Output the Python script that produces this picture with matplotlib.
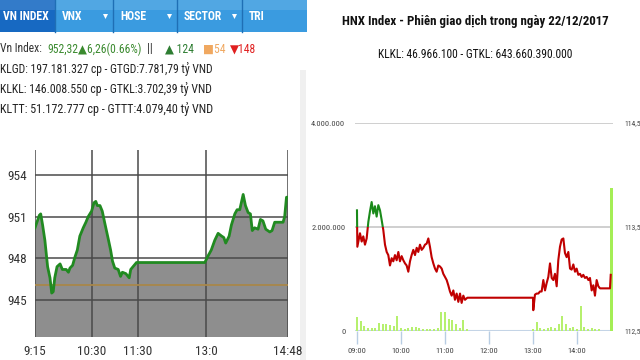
import numpy as np
import matplotlib
matplotlib.use("Agg")
import matplotlib.pyplot as plt
from matplotlib import font_manager as fm
from matplotlib.patches import Rectangle, Polygon

# pick the narrowest installed sans family
avail = {f.name for f in fm.fontManager.ttflist}
narrow = "DejaVu Sans"
for cand in ["Roboto Condensed", "Liberation Sans Narrow", "DejaVu Sans Condensed",
             "Open Sans Condensed", "Roboto", "Liberation Sans"]:
    if cand in avail:
        narrow = cand
        break
NARROW = [narrow, "DejaVu Sans"]

# ---- VN-Index intraday (minutes after 9:15, index points) ----
vn_min = [0, 5.7, 7.5, 10, 13, 16.6, 19.7, 22, 24, 26, 29, 33, 36, 41, 44, 46,
          49.5, 52.6, 55.7, 59, 63.5, 67, 70, 74.5, 77.6, 80, 82, 85.5, 88.5,
          92, 96.4, 99.5, 102, 105, 109.5, 112.6, 115, 119.6, 124, 126, 129,
          133.6, 223.5, 228, 232, 236.6, 241, 245.7, 248.5, 251, 255.5, 258.5,
          263, 266, 269.5, 274, 277, 280.5, 283.5, 286, 289, 293.6, 296.7, 300,
          303.7, 309, 312, 315.5, 326.5, 328.6, 331, 333]
vn_val = [950.2, 951.1, 951.2, 950.4, 949.3, 947.4, 946.6, 945.5, 945.6, 946.6,
          947.4, 947.6, 947.2, 947.2, 947.0, 947.3, 947.5, 948.1, 948.6, 949.6,
          950.2, 950.6, 951.0, 951.4, 952.0, 952.1, 951.8, 951.8, 951.4, 950.5,
          949.4, 948.6, 947.8, 947.3, 947.2, 946.7, 947.0, 946.9, 946.6, 947.2,
          947.4, 947.7, 947.7, 948.2, 948.6, 949.3, 949.8, 949.6, 949.5, 949.1,
          949.6, 950.4, 951.2, 951.5, 951.5, 952.6, 951.8, 951.3, 951.2, 950.0,
          950.2, 950.1, 950.8, 950.7, 950.1, 949.9, 950.0, 950.6, 950.6, 951.0,
          952.4, 952.4]
vn_ref = 946.06
vn_yticks = [945, 948, 951, 954]
vn_xticks = [0, 75, 135, 225, 333]
vn_xlabels = ["9:15", "10:30", "11:30", "13:0", "14:48"]

tabs = ["VN INDEX", "VNX", "HOSE", "SECTOR", "TRI"]
info_lines = ["KLGD: 197.181.327 cp - GTGD:7.781,79 tỷ VND",
              "KLKL: 146.008.550 cp - GTKL:3.702,39 tỷ VND",
              "KLTT: 51.172.777 cp - GTTT:4.079,40 tỷ VND"]

# ---- HNX-Index intraday (minutes after 9:00) ----
hnx_min = [0, 0.5, 4.1, 6.4, 8.6, 10.9, 13.2, 15.5, 17.7, 20, 22.3, 24.5, 26.8,
           29.1, 31.4, 33.6, 35.9, 38.2, 40.5, 42.7, 45, 47.3, 49.5, 51.8, 54.1,
           56.4, 58.6, 60.9, 63.2, 65.5, 67.7, 70, 72.3, 74.5, 76.8, 79.1, 81.4,
           83.6, 85.9, 88.2, 90.5, 92.7, 95, 97.3, 99.5, 101.8, 104.1, 106.4,
           108.6, 110.9, 113.2, 115.5, 117.7, 120, 122.3, 124.5, 126.8, 129.1,
           131.4, 133.6, 135.9, 138.2, 140.5, 142.7, 145, 147.3, 150.5, 240,
           240.4, 242.7, 245, 247.3, 249.5, 251.8, 254.1, 256.4, 258.6, 260.9,
           263.2, 265.5, 267.7, 270, 272.3, 274.5, 276.8, 279.1, 281.4, 283.6,
           285.9, 288.2, 290.5, 292.7, 295, 297.3, 299.5, 301.8, 304.1, 306.4,
           308.6, 310.9, 313.2, 315.5, 317.7, 320, 322.3, 324.5, 326.8, 329.1,
           331.4, 345, 346]
hnx_price = [113.66, 113.31, 113.44, 113.36, 113.41, 113.33, 113.39, 113.55,
             113.65, 113.74, 113.63, 113.70, 113.60, 113.71, 113.66, 113.57,
             113.47, 113.33, 113.26, 113.23, 113.13, 113.20, 113.17, 113.23,
             113.18, 113.26, 113.17, 113.22, 113.18, 113.15, 113.13, 113.07,
             113.17, 113.23, 113.28, 113.23, 113.30, 113.26, 113.33, 113.28,
             113.30, 113.33, 113.34, 113.39, 113.31, 113.21, 113.15, 113.10,
             113.07, 113.13, 113.12, 113.10, 113.05, 113.02, 112.99, 112.94,
             112.88, 112.84, 112.89, 112.80, 112.86, 112.78, 112.86, 112.77,
             112.84, 112.80, 112.82, 112.82, 112.70, 112.85, 112.86, 112.86,
             112.88, 112.88, 112.99, 112.89, 112.96, 113.02, 113.15, 113.01,
             112.99, 113.05, 112.93, 113.18, 113.31, 113.38, 113.39, 113.25,
             113.21, 113.26, 113.10, 113.09, 113.14, 113.07, 113.10, 113.04,
             113.05, 113.02, 113.04, 113.01, 113.02, 112.99, 113.01, 112.89,
             112.94, 112.84, 112.99, 112.93, 112.91, 112.91, 113.04]
hnx_ref = 113.5
vol_min = [0, 5, 10, 15, 20, 25, 30, 35, 40, 45, 50, 55, 60, 65, 70, 75, 80,
           85, 90, 95, 100, 105, 110, 115, 120, 125, 130, 135, 140, 145, 150,
           240, 245, 250, 255, 260, 265, 270, 275, 280, 285, 290, 295, 300,
           305, 310, 315, 320, 325, 330, 347]
vol = [0.27, 0.19, 0.09, 0.05, 0.06, 0.05, 0.15, 0.13, 0.14, 0.12, 0.10, 0.28,
       0.05, 0.04, 0.05, 0.08, 0.08, 0.05, 0.03, 0.03, 0.03, 0.03, 0.06, 0.36,
       0.36, 0.24, 0.22, 0.13, 0.06, 0.22, 0.03,
       0.04, 0.18, 0.06, 0.04, 0.06, 0.08, 0.06, 0.13, 0.28, 0.14, 0.06, 0.08,
       0.04, 0.49, 0.08, 0.04, 0.06, 0.04, 0.03, 2.75]
vol = [v * 1e6 for v in vol]
hnx_xticks = [0, 60, 120, 180, 240, 300]
hnx_xlabels = ["09:00", "10:00", "11:00", "12:00", "13:00", "14:00"]

W, H = 640, 360
fig = plt.figure(figsize=(6.4, 3.6), dpi=100)
fig.patch.set_facecolor("white")
renderer = fig.canvas.get_renderer()


def px_axes(x0, y0, x1, y1, **kw):
    return fig.add_axes([x0 / W, 1 - y1 / H, (x1 - x0) / W, (y1 - y0) / H], **kw)


def fit(t, max_w):
    # shrink a text until it is no wider than max_w pixels
    w = t.get_window_extent(renderer).width
    if w > max_w:
        t.set_fontsize(t.get_fontsize() * max_w / w)
    return t


# overlay in pixel coordinates for header/texts
ov = px_axes(0, 0, W, H)
ov.set_xlim(0, W)
ov.set_ylim(H, 0)
ov.axis("off")

tab_edges = [0, 55, 113, 177, 242, 307]
for i, name in enumerate(tabs):
    x0, x1 = tab_edges[i], tab_edges[i + 1]
    col = "#1769c2" if i == 0 else "#3a9be0"
    ov.add_patch(Rectangle((x0, 0), x1 - x0, 32, color=col, lw=0))
    ov.add_patch(Rectangle((x0, 0), x1 - x0, 10, color="white", alpha=0.12, lw=0))
    if i > 0:
        ov.plot([x0, x0], [0, 32], color="#1f6fb5", lw=1)
    t = ov.text(x0 + (3 if i == 0 else 7), 17, name, color="white", fontsize=8.5,
                fontweight="bold", family=NARROW, va="center", ha="left")
    fit(t, (x1 - x0) - (6 if i == 0 else 22))
    if name in ("VNX", "HOSE", "SECTOR"):
        ov.add_patch(Polygon([[x1 - 10, 14], [x1 - 5, 14], [x1 - 7.5, 19]],
                             closed=True, color="white", lw=0))

# info lines 2-4
fs_info = 9.5
for k, s in enumerate(info_lines):
    t = ov.text(0, 69 + 20 * k, s, color="#222222", fontsize=9.5, family=NARROW,
                va="center", ha="left")
    fit(t, 214)
    fs_info = min(fs_info, t.get_fontsize())

# info line 1, pieces placed at their reference positions
pieces = [(0, "Vn Index:", "#333333"), (47, "952,32▲6,26(0.66%)", "#3a8a2e"),
          (147, "||", "#333333"), (165, "▲ 124", "#2e7d32"),
          (203, "■54", "#f0a860"), (230, "▼148", "#e02020")]
for x, s, c in pieces:
    ov.text(x, 49, s, color=c, fontsize=fs_info, family=NARROW, va="center",
            ha="left")

# right panel titles
ov.add_patch(Rectangle((300, 70), 6, 290, color="#f0f0f0", lw=0))
t = ov.text(475, 22, "HNX Index - Phiên giao dịch trong ngày 22/12/2017", fontsize=12,
            fontweight="bold", family=NARROW, ha="center", va="center",
            color="#111111")
fit(t, 266)
t = ov.text(475, 55, "KLKL: 46.966.100 - GTKL: 643.660.390.000", fontsize=9.5,
            family=NARROW, ha="center", va="center", color="#111111")
fit(t, 196)

# ---- left chart ----
ax = px_axes(35, 150, 288, 336.7)
ax.fill_between(vn_min, vn_val, 900, color="#8e8e8e", lw=0, zorder=1)
for v in vn_yticks:
    ax.axhline(v, color="#4a4a4a", lw=1.1, zorder=2)
for t in vn_xticks:
    ax.axvline(t, color="#4a4a4a", lw=1.1, zorder=2)
ax.axhline(vn_ref, color="#a8874a", lw=1.3, zorder=3)
ax.plot(vn_min, vn_val, color="#218a21", lw=2, zorder=4)
ax.set_xlim(0, 333)
ax.set_ylim(942.36, 955.8)
ax.set_yticks(vn_yticks)
ax.set_yticklabels([str(v) for v in vn_yticks])
ax.set_xticks(vn_xticks)
ax.set_xticklabels(vn_xlabels)
ax.tick_params(length=0, labelsize=9.5, colors="#333333", pad=6)
for lab in ax.get_xticklabels() + ax.get_yticklabels():
    lab.set_family(NARROW)
for s in ax.spines.values():
    s.set_visible(False)

# ---- right chart ----
bx = px_axes(355, 123, 613, 331)
bx.set_xlim(-2.7, 349.1)
bx.set_ylim(0, 4e6)
for v in [2e6, 4e6]:
    bx.axhline(v, color="#cccccc", lw=1.3, zorder=0)
bx.axhline(0, color="#c4d4e6", lw=1.5, zorder=0)
bx.bar(vol_min[:-1], vol[:-1], width=2.8, color="#b6f06e", lw=0, zorder=2)
bx.bar(vol_min[-1:], vol[-1:], width=3.5, color="#a4ee55", lw=0, zorder=2)
bx.set_yticks([0, 2e6, 4e6])
bx.set_yticklabels(["0", "2.000.000", "4.000.000"])
bx.set_xticks(hnx_xticks)
bx.set_xticklabels(hnx_xlabels)
bx.tick_params(axis="y", length=0, labelsize=6, colors="#444444", pad=7)
bx.tick_params(axis="x", length=9, width=1, color="#b8cde3", labelsize=6,
               colors="#444444", pad=3)
for lab in bx.get_xticklabels() + bx.get_yticklabels():
    lab.set_family(NARROW)
for s in bx.spines.values():
    s.set_visible(False)

px = bx.twinx()
px.set_ylim(112.5, 114.5)
red, = px.plot(hnx_min, hnx_price, color="#c00000", lw=1.5, zorder=3)
grn, = px.plot(hnx_min, hnx_price, color="#1a8a1a", lw=1.5, zorder=3)
clip_hi = Rectangle((-10, hnx_ref), 400, 5, transform=px.transData)
clip_lo = Rectangle((-10, 100), 400, hnx_ref - 100, transform=px.transData)
grn.set_clip_path(clip_hi)
red.set_clip_path(clip_lo)
px.set_yticks([112.5, 113.5, 114.5])
px.set_yticklabels(["112,5", "113,5", "114,5"])
px.tick_params(length=0, labelsize=5.5, colors="#444444", pad=8)
for lab in px.get_yticklabels():
    lab.set_family(NARROW)
for s in px.spines.values():
    s.set_visible(False)

fig.savefig("out.png", dpi=100)
